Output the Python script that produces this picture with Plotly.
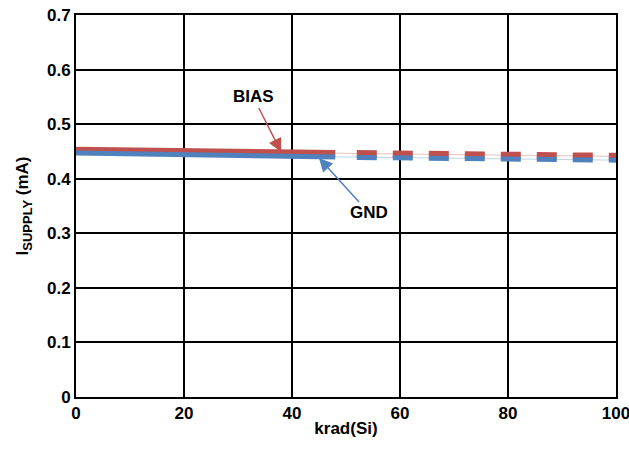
import plotly.graph_objects as go

# measured points (solid) and extrapolated part (dashed)
x_solid = [0, 10, 20, 30, 40, 48]
bias_solid = [0.452, 0.451, 0.450, 0.449, 0.447, 0.446]
gnd_solid = [0.447, 0.446, 0.444, 0.443, 0.441, 0.440]

x_dash = [52, 60, 70, 80, 90, 100]
bias_dash = [0.446, 0.445, 0.444, 0.443, 0.442, 0.441]
gnd_dash = [0.439, 0.438, 0.437, 0.436, 0.435, 0.434]

red = "#c0504d"
blue = "#4f81bd"

fig = go.Figure()
# faint thin trend lines
fig.add_trace(go.Scatter(x=x_solid + x_dash, y=bias_solid + bias_dash, mode="lines",
                         line=dict(color=red, width=1), opacity=0.35, showlegend=False))
fig.add_trace(go.Scatter(x=x_solid + x_dash, y=gnd_solid + gnd_dash, mode="lines",
                         line=dict(color=blue, width=1), opacity=0.35, showlegend=False))
fig.add_trace(go.Scatter(x=x_solid, y=bias_solid, mode="lines", line=dict(color=red, width=7), showlegend=False))
fig.add_trace(go.Scatter(x=x_dash, y=bias_dash, mode="lines", line=dict(color=red, width=7, dash="20px,16px"), showlegend=False))
fig.add_trace(go.Scatter(x=x_solid, y=gnd_solid, mode="lines", line=dict(color=blue, width=5), showlegend=False))
fig.add_trace(go.Scatter(x=x_dash, y=gnd_dash, mode="lines", line=dict(color=blue, width=5, dash="20px,16px"), showlegend=False))

fig.add_annotation(x=38, y=0.449, text="<b>BIAS</b>", showarrow=True, ax=-28, ay=-55,
                   arrowcolor=red, arrowhead=2, arrowsize=1.8, arrowwidth=1.5,
                   font=dict(size=17, color="black"))
fig.add_annotation(x=45, y=0.438, text="<b>GND</b>", showarrow=True, ax=50, ay=55,
                   arrowcolor=blue, arrowhead=2, arrowsize=1.8, arrowwidth=1.5,
                   font=dict(size=17, color="black"))

fig.update_layout(
    width=629, height=451,
    margin=dict(l=76, r=13, t=15, b=54),
    plot_bgcolor="white", paper_bgcolor="white",
    font=dict(family="Liberation Sans, Arial", size=17, color="black"),
    xaxis=dict(range=[0, 100], dtick=20, showgrid=True, gridcolor="black", gridwidth=2,
               showline=True, linecolor="black", linewidth=2, mirror=True, zeroline=False,
               tickfont=dict(size=17), ticks="", automargin=False, ticklabeloverflow="allow",
               tickprefix="<b>", ticksuffix="</b>",
               title=dict(text="<b>krad(Si)</b>", font=dict(size=17), standoff=0)),
    yaxis=dict(range=[0, 0.7], dtick=0.1, showgrid=True, gridcolor="black", gridwidth=2,
               showline=True, linecolor="black", linewidth=2, mirror=True, zeroline=False,
               tickfont=dict(size=17), ticks="", automargin=False, ticklabeloverflow="allow",
               tickprefix="<b>", ticksuffix="</b>",
               title=dict(text="<b>I<sub><span style='font-size:13px'>SUPPLY</span></sub> (mA)</b>",
                          font=dict(size=17), standoff=14)),
)

fig.write_html("out.html", config={"displayModeBar": False},
               post_script="document.body.style.margin='0';")
